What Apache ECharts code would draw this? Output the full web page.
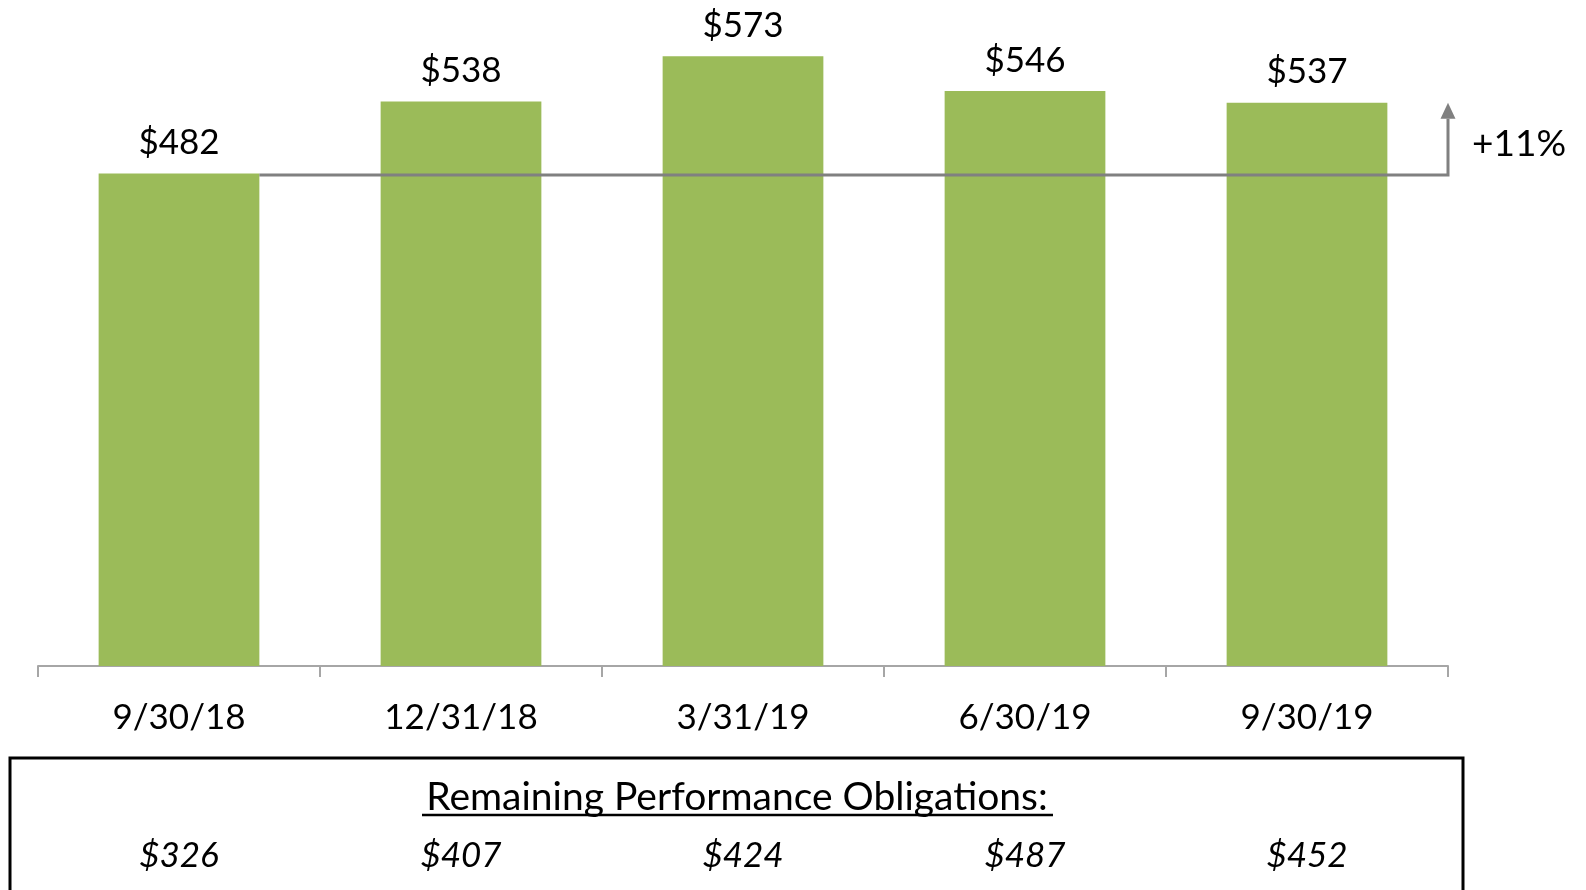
<!DOCTYPE html>
<html>
<head>
<meta charset="utf-8">
<script src="https://cdn.jsdelivr.net/npm/echarts@6/dist/echarts.min.js"></script>
<style>
  html, body { margin: 0; padding: 0; background: #fff; }
  #chart { width: 1586px; height: 890px; }
</style>
</head>
<body>
<div id="chart"></div>
<script>
// quarter end dates and balances ($M)
var categories = ['9/30/18', '12/31/18', '3/31/19', '6/30/19', '9/30/19']
var values = [482, 538, 573, 546, 537]
// remaining performance obligations shown in the box below
var rpoValues = [326, 407, 424, 487, 452]
var rpoTitle = 'Remaining Performance Obligations:'
var growthText = '+11%'

var font = 'Lato'
var chart = echarts.init(document.getElementById('chart'))

chart.setOption({
  animation: false,
  grid: {
    left: 38,
    right: 138,
    top: 21.5,
    bottom: 224
  },
  xAxis: [
    {
      type: 'category',
      data: categories,
      boundaryGap: true,
      axisLine: { lineStyle: { color: '#a6a6a6', width: 2 } },
      axisTick: {
        show: true,
        interval: 0,
        alignWithLabel: false,
        length: 11,
        lineStyle: { color: '#a6a6a6', width: 2 }
      },
      axisLabel: {
        margin: 34,
        color: '#000',
        fontFamily: font,
        fontSize: 35
      }
    },
    {
      type: 'category',
      position: 'bottom',
      data: rpoValues.map(function(v) { return '$' + v }),
      axisLine: { show: false },
      axisTick: { show: false },
      axisLabel: {
        margin: 172,
        color: '#000',
        fontFamily: font,
        fontStyle: 'italic',
        fontSize: 35
      }
    }
  ],
  yAxis: {
    type: 'value',
    min: 100,
    max: 600,
    show: false,
    splitLine: { show: false }
  },
  series: [
    {
      type: 'bar',
      data: values,
      barWidth: '57%',
      itemStyle: { color: '#9bbb59' },
      label: {
        show: true,
        position: 'top',
        distance: 13,
        color: '#000',
        fontFamily: font,
        fontSize: 35,
        formatter: function(p) {
          return '$' + p.value
        }
      }
    }
  ]
})

function drawExtras() {
  var yStart = chart.convertToPixel({ yAxisIndex: 0 }, values[0])
  var yEnd = chart.convertToPixel({ yAxisIndex: 0 }, values[values.length - 1])
  var c0 = chart.convertToPixel({ xAxisIndex: 0 }, categories[0])
  var c1 = chart.convertToPixel({ xAxisIndex: 0 }, categories[1])
  var cLast = chart.convertToPixel({ xAxisIndex: 0 }, categories[categories.length - 1])
  var step = c1 - c0
  var xStart = c0 + step * 0.57 / 2
  var xEnd = cLast + step / 2
  var lineY = yStart + 1.5
  var headLen = 16

  chart.setOption({
    graphic: [
      {
        type: 'polyline',
        z: 100,
        shape: { points: [[xStart, lineY], [xEnd, lineY], [xEnd, yEnd + headLen]] },
        style: { stroke: '#808080', lineWidth: 3, fill: null }
      },
      {
        type: 'polygon',
        z: 100,
        shape: { points: [[xEnd - 7.5, yEnd + headLen], [xEnd + 7.5, yEnd + headLen], [xEnd, yEnd]] },
        style: { fill: '#808080' }
      },
      {
        type: 'text',
        z: 100,
        left: xEnd + 24,
        top: 126,
        style: { text: growthText, fill: '#000', font: '37px ' + font }
      },
      {
        type: 'rect',
        z: 100,
        shape: { x: 10, y: 758, width: 1453, height: 200 },
        style: { stroke: '#000', lineWidth: 3, fill: null }
      },
      {
        type: 'text',
        z: 100,
        x: 737,
        y: 797,
        style: {
          text: rpoTitle,
          fill: '#000',
          font: '39px ' + font,
          align: 'center',
          verticalAlign: 'middle'
        }
      },
      {
        type: 'line',
        z: 100,
        shape: { x1: 422, y1: 815, x2: 1053, y2: 815 },
        style: { stroke: '#000', lineWidth: 2.5 }
      }
    ]
  })
}

drawExtras()
</script>
</body>
</html>
